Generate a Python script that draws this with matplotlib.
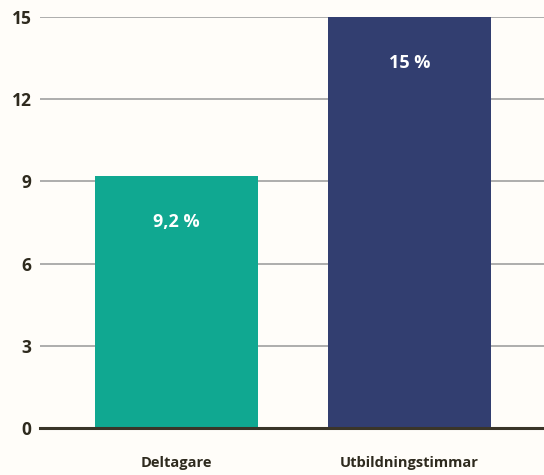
import matplotlib
matplotlib.use("Agg")
import matplotlib.pyplot as plt

categories = ["Deltagare", "Utbildningstimmar"]
values = [9.2, 15]
value_labels = ["9,2 %", "15 %"]
yticks = [0, 3, 6, 9, 12, 15]
colors = ["#10a891", "#323e70"]

bg = "#fffdf9"
txt = "#2e2a1e"
plt.rcParams['font.family'] = ['Open Sans', 'DejaVu Sans']

fig = plt.figure(figsize=(5.44, 4.75), dpi=100, facecolor=bg)
ax = fig.add_axes([40/544, 47/475, 504/544, 411/475], facecolor=bg)

x = list(range(len(categories)))
bars = ax.bar(x, values, width=0.7, color=colors, zorder=3)
for xi, v, lab in zip(x, values, value_labels):
    ax.annotate(lab, (xi, v), xytext=(0, -33), textcoords='offset points',
                ha='center', va='center', color='white',
                fontsize=13, fontweight='bold', zorder=4)

ax.set_xlim(-0.586, 1.577)
ax.set_ylim(0, 15)
ax.set_yticks(yticks)
ax.set_yticklabels([str(t) for t in yticks], fontsize=12.5, fontweight='bold', color=txt)
ax.yaxis.grid(True, color='#a0a0a0', linewidth=1.2, zorder=1)
ax.set_axisbelow(True)
ax.axhline(0, color='#3a3528', linewidth=2.2, zorder=5, clip_on=False)
ax.tick_params(axis='y', length=0, pad=6)
ax.tick_params(axis='x', length=0, pad=20)
ax.set_xticks(x)
ax.set_xticklabels(categories, fontsize=10.5, fontweight='bold', color=txt)
for s in ax.spines.values():
    s.set_visible(False)

fig.savefig("out.png", dpi=100, facecolor=bg)
